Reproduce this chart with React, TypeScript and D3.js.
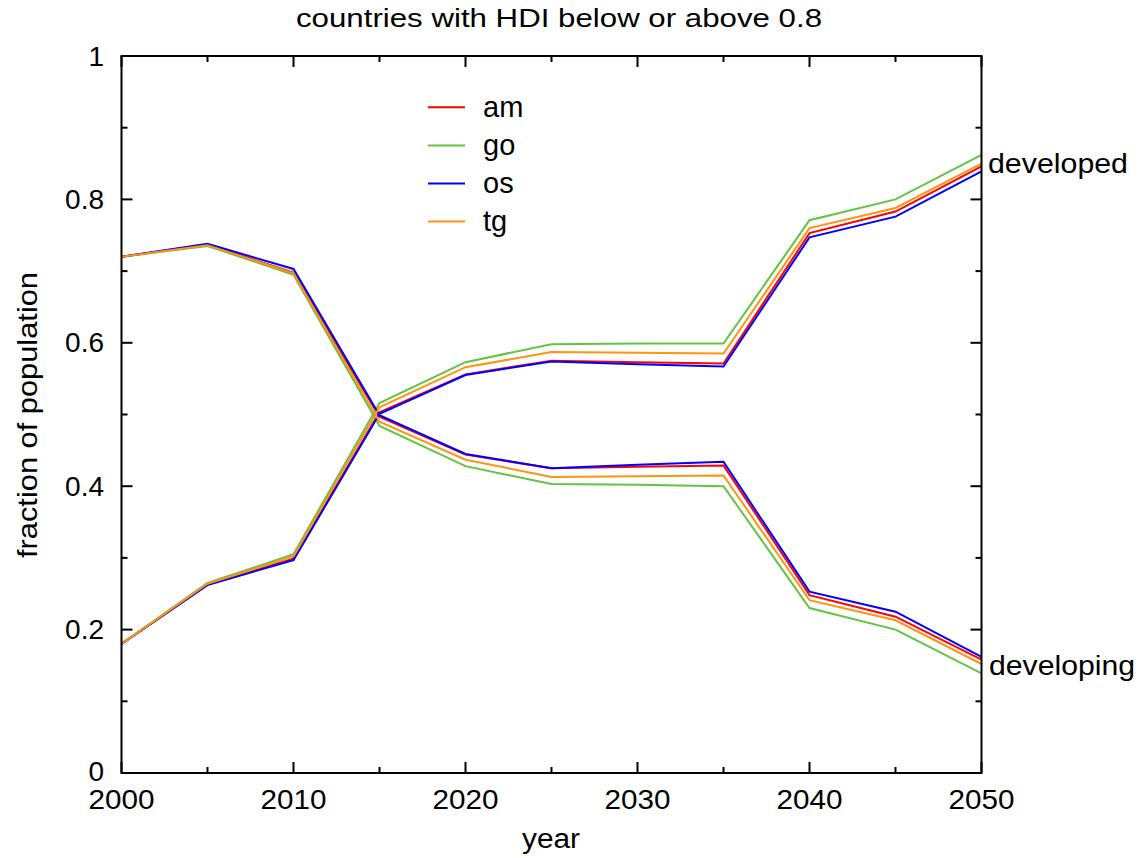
import React from "react";
import * as d3 from "d3";

const years = [2000, 2005, 2010, 2015, 2020, 2025, 2030, 2035, 2040, 2045, 2050];
const seriesNames = ["am", "go", "os", "tg"];
const seriesColors = ["#ff0000", "#62c440", "#0000ff", "#ff9410"];

// fraction of population in developing countries (HDI below 0.8)
const developingAm = [0.72, 0.737, 0.698, 0.497, 0.444, 0.425, 0.427, 0.429, 0.248, 0.218, 0.158];
const developingGo = [0.72, 0.735, 0.695, 0.484, 0.428, 0.403, 0.402, 0.4, 0.23, 0.2, 0.139];
const developingOs = [0.72, 0.738, 0.703, 0.499, 0.445, 0.425, 0.43, 0.434, 0.253, 0.225, 0.162];
const developingTg = [0.72, 0.736, 0.697, 0.49, 0.437, 0.413, 0.414, 0.415, 0.241, 0.213, 0.152];

// fraction of population in developed countries (HDI above 0.8)
const developedAm = [0.18, 0.263, 0.299, 0.503, 0.556, 0.575, 0.573, 0.571, 0.753, 0.783, 0.846];
const developedGo = [0.18, 0.265, 0.305, 0.516, 0.573, 0.598, 0.599, 0.599, 0.771, 0.8, 0.862];
const developedOs = [0.18, 0.262, 0.297, 0.501, 0.555, 0.574, 0.57, 0.567, 0.747, 0.776, 0.839];
const developedTg = [0.18, 0.264, 0.302, 0.51, 0.566, 0.587, 0.586, 0.585, 0.76, 0.788, 0.85];

const developingSeries = [developingAm, developingGo, developingOs, developingTg];
const developedSeries = [developedAm, developedGo, developedOs, developedTg];

const xTickMajor = [2000, 2010, 2020, 2030, 2040, 2050];
const xTickMinor = [2005, 2015, 2025, 2035, 2045];
const yTickMajor = [0, 0.2, 0.4, 0.6, 0.8, 1];
const yTickMinor = [0.1, 0.3, 0.5, 0.7, 0.9];
const yTickLabels = ["0", "0.2", "0.4", "0.6", "0.8", "1"];

const title = "countries with HDI below or above 0.8";
const xLabel = "year";
const yLabel = "fraction of population";
const upperLabel = "developed";
const lowerLabel = "developing";

const W = 1139;
const H = 858;
const left = 121.5;
const right = 981.5;
const top = 56;
const bottom = 773;
const font = "'Liberation Sans', Arial, Helvetica, sans-serif";

export default function App() {
  const x = d3.scaleLinear().domain([2000, 2050]).range([left, right]);
  const y = d3.scaleLinear().domain([0, 1]).range([bottom, top]);
  const line = d3
    .line<number>()
    .x((_, i) => x(years[i]))
    .y((d) => y(d));

  const major = 11;
  const minor = 6;

  return (
    <svg
      width={W}
      height={H}
      style={{ position: "absolute", left: 0, top: 0, background: "#fff" }}
      fontFamily={font}
    >
      <rect x={0} y={0} width={W} height={H} fill="#fff" />
      {/* data */}
      <g fill="none" strokeWidth={2} strokeLinejoin="miter">
        {seriesNames.map((n, i) => (
          <g key={n}>
            <path d={line(developingSeries[i]) || ""} stroke={seriesColors[i]} />
            <path d={line(developedSeries[i]) || ""} stroke={seriesColors[i]} />
          </g>
        ))}
      </g>
      {/* frame */}
      <rect
        x={left}
        y={top}
        width={right - left}
        height={bottom - top}
        fill="none"
        stroke="#000"
        strokeWidth={2}
      />
      {/* ticks */}
      <g stroke="#000" strokeWidth={2}>
        {xTickMajor.map((t) => (
          <g key={"xM" + t}>
            <line x1={x(t)} x2={x(t)} y1={bottom} y2={bottom - major} />
            <line x1={x(t)} x2={x(t)} y1={top} y2={top + major} />
          </g>
        ))}
        {xTickMinor.map((t) => (
          <g key={"xm" + t}>
            <line x1={x(t)} x2={x(t)} y1={bottom} y2={bottom - minor} />
            <line x1={x(t)} x2={x(t)} y1={top} y2={top + minor} />
          </g>
        ))}
        {yTickMajor.map((t) => (
          <g key={"yM" + t}>
            <line x1={left} x2={left + major} y1={y(t)} y2={y(t)} />
            <line x1={right} x2={right - major} y1={y(t)} y2={y(t)} />
          </g>
        ))}
        {yTickMinor.map((t) => (
          <g key={"ym" + t}>
            <line x1={left} x2={left + minor} y1={y(t)} y2={y(t)} />
            <line x1={right} x2={right - minor} y1={y(t)} y2={y(t)} />
          </g>
        ))}
      </g>
      {/* tick labels */}
      <g fontSize={28} fill="#000">
        {xTickMajor.map((t) => (
          <text key={"xl" + t} x={x(t)} y={808.5} textAnchor="middle" textLength={66} lengthAdjust="spacingAndGlyphs">
            {t}
          </text>
        ))}
        {yTickMajor.map((t, i) => (
          <text key={"yl" + t} x={104} y={y(t) + (t === 0 ? 8 : 9.5)} textAnchor="end">
            {yTickLabels[i]}
          </text>
        ))}
      </g>
      {/* titles */}
      <text x={559} y={27} fontSize={25} textAnchor="middle" textLength={526} lengthAdjust="spacingAndGlyphs">
        {title}
      </text>
      <text x={551} y={848} fontSize={27} textAnchor="middle" textLength={58} lengthAdjust="spacingAndGlyphs">
        {xLabel}
      </text>
      <text
        transform={`translate(37,415) rotate(-90)`}
        fontSize={28}
        textAnchor="middle"
        textLength={286}
        lengthAdjust="spacingAndGlyphs"
      >
        {yLabel}
      </text>
      <text x={988} y={172.5} fontSize={28} textLength={140} lengthAdjust="spacingAndGlyphs">
        {upperLabel}
      </text>
      <text x={989} y={675} fontSize={28} textLength={146} lengthAdjust="spacingAndGlyphs">
        {lowerLabel}
      </text>
      {/* legend */}
      <g>
        {seriesNames.map((n, i) => {
          const ly = 107.3 + i * 38.1;
          return (
            <g key={"lg" + n}>
              <line x1={428} x2={465} y1={ly} y2={ly} stroke={seriesColors[i]} strokeWidth={2} />
              <text x={483} y={ly + 9.5} fontSize={29}>
                {n}
              </text>
            </g>
          );
        })}
      </g>
    </svg>
  );
}
